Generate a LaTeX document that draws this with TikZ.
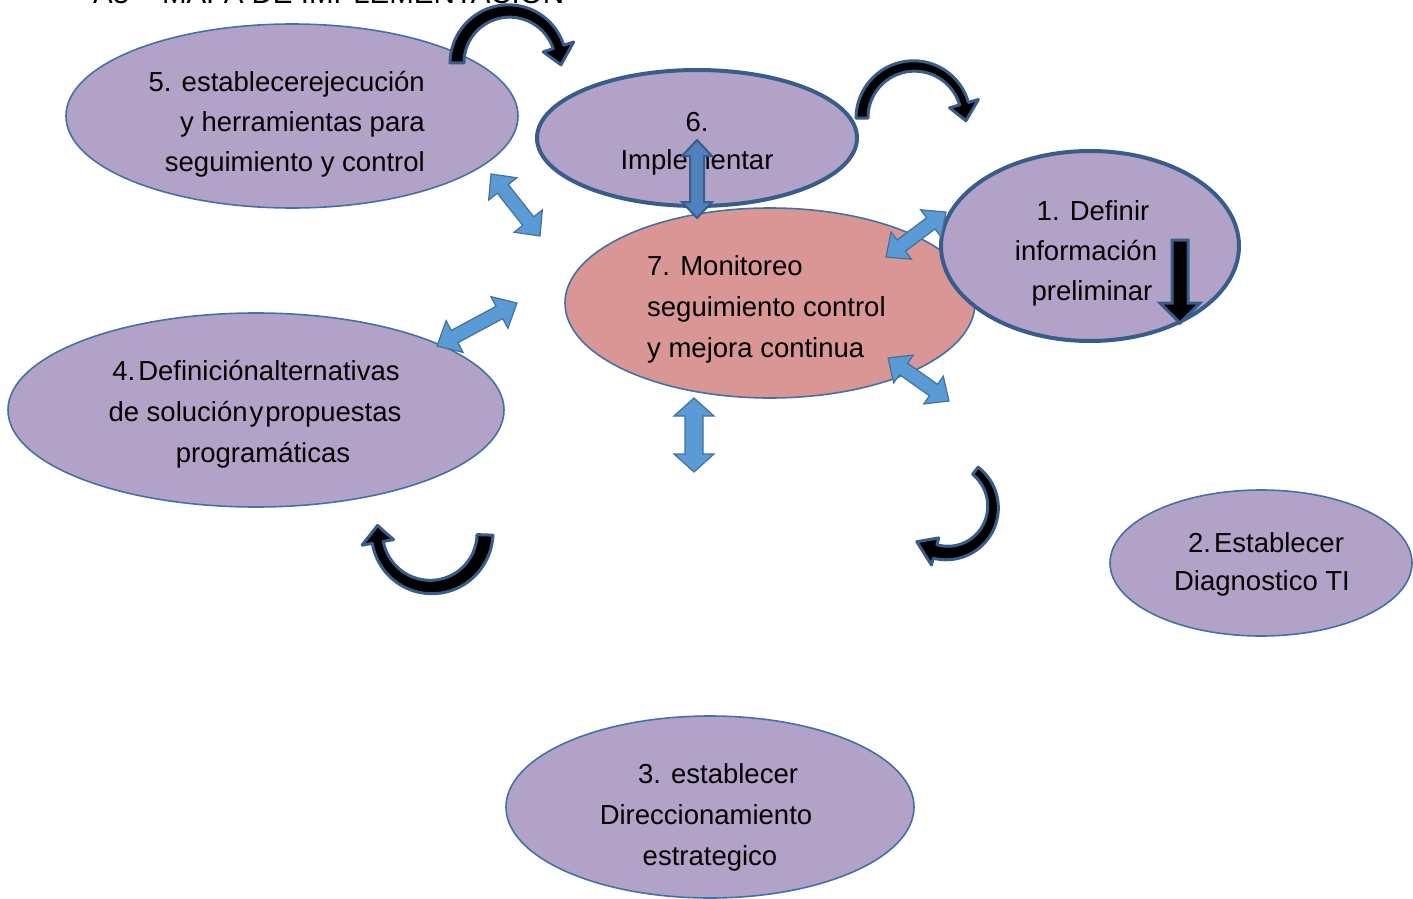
\documentclass[tikz,border=0pt]{standalone}
\usepackage{fontspec}
\setmainfont{Liberation Sans}
\usetikzlibrary{shapes.geometric}
\definecolor{lav}{HTML}{B3A2C7}
\definecolor{pinkfill}{HTML}{D99694}
\definecolor{thinb}{HTML}{4172A6}
\definecolor{thickb}{HTML}{385D8A}
\definecolor{arrblue}{HTML}{5B9BD5}
\definecolor{arrborder}{HTML}{41719C}
\definecolor{arrdark}{HTML}{4F81BD}
\tikzset{
  ell/.style={ellipse, inner sep=0pt, fill=lav, draw=thinb, line width=1.6pt},
  ellthick/.style={ell, draw=thickb, line width=4pt},
  lbl/.style={inner sep=0pt, font=\fontsize{27.5}{41}\selectfont},
  ttl/.style={inner sep=0pt, font=\fontsize{29.5}{35}\selectfont},
  barr/.style={fill=arrblue, draw=arrborder, line width=1.2pt, line join=miter},
  barrdark/.style={fill=arrdark, draw=thickb, line width=2pt, line join=miter},
  carr/.style={fill=black, draw=thickb, line width=3pt, line join=round},
}
% double-headed block arrow: x1,y1,x2,y2, shaft half, head half, head length, style
\newcommand{\BlockDArrow}[8]{%
  \pgfmathsetmacro\bdx{(#3)-(#1)}\pgfmathsetmacro\bdy{(#4)-(#2)}%
  \pgfmathsetmacro\bl{veclen(\bdx,\bdy)}%
  \pgfmathsetmacro\bux{\bdx/\bl}\pgfmathsetmacro\buy{\bdy/\bl}%
  \pgfmathsetmacro\blm{\bl-(#7)}%
  \coordinate (q0) at ({#1},{#2});
  \coordinate (q1) at ({#1+(#7)*\bux-(#6)*\buy},{#2+(#7)*\buy+(#6)*\bux});
  \coordinate (q2) at ({#1+(#7)*\bux-(#5)*\buy},{#2+(#7)*\buy+(#5)*\bux});
  \coordinate (q3) at ({#1+\blm*\bux-(#5)*\buy},{#2+\blm*\buy+(#5)*\bux});
  \coordinate (q4) at ({#1+\blm*\bux-(#6)*\buy},{#2+\blm*\buy+(#6)*\bux});
  \coordinate (q5) at ({#3},{#4});
  \coordinate (q6) at ({#1+\blm*\bux+(#6)*\buy},{#2+\blm*\buy-(#6)*\bux});
  \coordinate (q7) at ({#1+\blm*\bux+(#5)*\buy},{#2+\blm*\buy-(#5)*\bux});
  \coordinate (q8) at ({#1+(#7)*\bux+(#5)*\buy},{#2+(#7)*\buy-(#5)*\bux});
  \coordinate (q9) at ({#1+(#7)*\bux+(#6)*\buy},{#2+(#7)*\buy-(#6)*\bux});
  \filldraw[#8] (q0) -- (q1) -- (q2) -- (q3) -- (q4) -- (q5) -- (q6) -- (q7) -- (q8) -- (q9) -- cycle;
}
% curved arrow: cx, cy, r, a1, a2, w1, w2, head half, signed tip angle
\newcommand{\CurvArr}[9]{%
  \filldraw[carr] plot[domain=#4:#5, samples=60, variable=\t]
    ({#1+(#3+((#6)+((#7)-(#6))*(\t-(#4))/((#5)-(#4)))/2)*cos(\t)},{#2+(#3+((#6)+((#7)-(#6))*(\t-(#4))/((#5)-(#4)))/2)*sin(\t)})
    -- ({#1+(#3+#8)*cos(#5)},{#2+(#3+#8)*sin(#5)})
    -- ({#1+#3*cos((#5)+(#9))},{#2+#3*sin((#5)+(#9))})
    -- ({#1+(#3-#8)*cos(#5)},{#2+(#3-#8)*sin(#5)})
    -- plot[domain=#5:#4, samples=60, variable=\t]
    ({#1+(#3-((#6)+((#7)-(#6))*(\t-(#4))/((#5)-(#4)))/2)*cos(\t)},{#2+(#3-((#6)+((#7)-(#6))*(\t-(#4))/((#5)-(#4)))/2)*sin(\t)})
    -- cycle;
}
\begin{document}
\begin{tikzpicture}[x=1pt,y=-1pt]
\useasboundingbox (0,0) rectangle (1413,899);
% title (cut off at the top)
\begin{scope}
\clip (0,0) rectangle (1413,899);
\node[ttl, anchor=base west] (title) at (93,4) {A3 -- MAPA DE IMPLEMENTACIÓN};
\end{scope}
% ellipses
\node[ell, minimum width=452pt, minimum height=184pt] (e5) at (292,116) {};
\node[ell, minimum width=496pt, minimum height=194pt] (e4) at (256,410) {};
\node[ell, minimum width=302pt, minimum height=146pt] (e2) at (1261,563) {};
\node[ell, minimum width=408pt, minimum height=182pt] (e3) at (710,807) {};
\node[ellthick, minimum width=320pt, minimum height=136pt] (e6) at (697,138) {};
\node[ell, fill=pinkfill, minimum width=410pt, minimum height=190pt] (e7) at (770,303) {};
\node[ellthick, minimum width=298pt, minimum height=190pt] (e1) at (1090,246) {};
% texts
\node[lbl, anchor=base east] (t5a) at (425,91) {5. establecerejecución};
\node[lbl, anchor=base east] (t5b) at (425,131) {y herramientas para};
\node[lbl, anchor=base east] (t5c) at (425,171) {seguimiento y control};
\node[lbl, anchor=base] (t6a) at (697,131) {6.};
\node[lbl, anchor=base] (t6b) at (697,169) {Implementar};
\node[lbl, anchor=base west] (t7a) at (647,275) {7. Monitoreo};
\node[lbl, anchor=base west] (t7b) at (647,316) {seguimiento control};
\node[lbl, anchor=base west] (t7c) at (647,357) {y mejora continua};
\node[lbl, anchor=base] (t1a) at (1093,220) {1. Definir};
\node[lbl, anchor=base] (t1b) at (1086,260) {información};
\node[lbl, anchor=base] (t1c) at (1092,300) {preliminar};
\node[lbl, anchor=base] (t4a) at (256,380) {4.\hspace{3pt}Definiciónalternativas};
\node[lbl, anchor=base] (t4b) at (255,421) {de solución\hspace{2pt}y\hspace{2pt}propuestas};
\node[lbl, anchor=base] (t4c) at (263,462) {programáticas};
\node[lbl, anchor=base] (t2a) at (1266,552) {2.\hspace{3pt}Establecer};
\node[lbl, anchor=base] (t2b) at (1262,590) {Diagnostico TI};
\node[lbl, anchor=base] (t3a) at (718,783) {3. establecer};
\node[lbl, anchor=base] (t3b) at (706,824) {Direccionamiento};
\node[lbl, anchor=base] (t3c) at (710,865) {estrategico};
% blue double arrows
\BlockDArrow{491}{174}{540}{236}{7}{18}{19}{barr}
\BlockDArrow{437}{346}{517}{303}{7}{18}{20}{barr}
\BlockDArrow{697}{140}{697}{218}{7}{15}{16}{barrdark}
\BlockDArrow{886}{257}{946}{212}{7}{17}{19}{barr}
\BlockDArrow{888}{358}{949}{401}{7}{17}{19}{barr}
\BlockDArrow{694}{398}{694}{472}{9}{20}{18}{barr}
% black curved arrows
\CurvArr{509}{63}{52}{180}{342}{14}{11}{16}{20}
\CurvArr{914}{118}{52}{180}{344}{12}{9}{15}{19}
\CurvArr{947}{507}{46}{-52}{105}{9}{14}{14}{26}
\CurvArr{431}{533}{54}{2}{170}{16}{11}{16}{18}
% black down arrow inside ellipse 1
\filldraw[carr, line join=miter] (1172,240) -- (1188,240) -- (1188,303) -- (1200,303) -- (1180,323) -- (1160,303) -- (1172,303) -- cycle;
\end{tikzpicture}
\end{document}
